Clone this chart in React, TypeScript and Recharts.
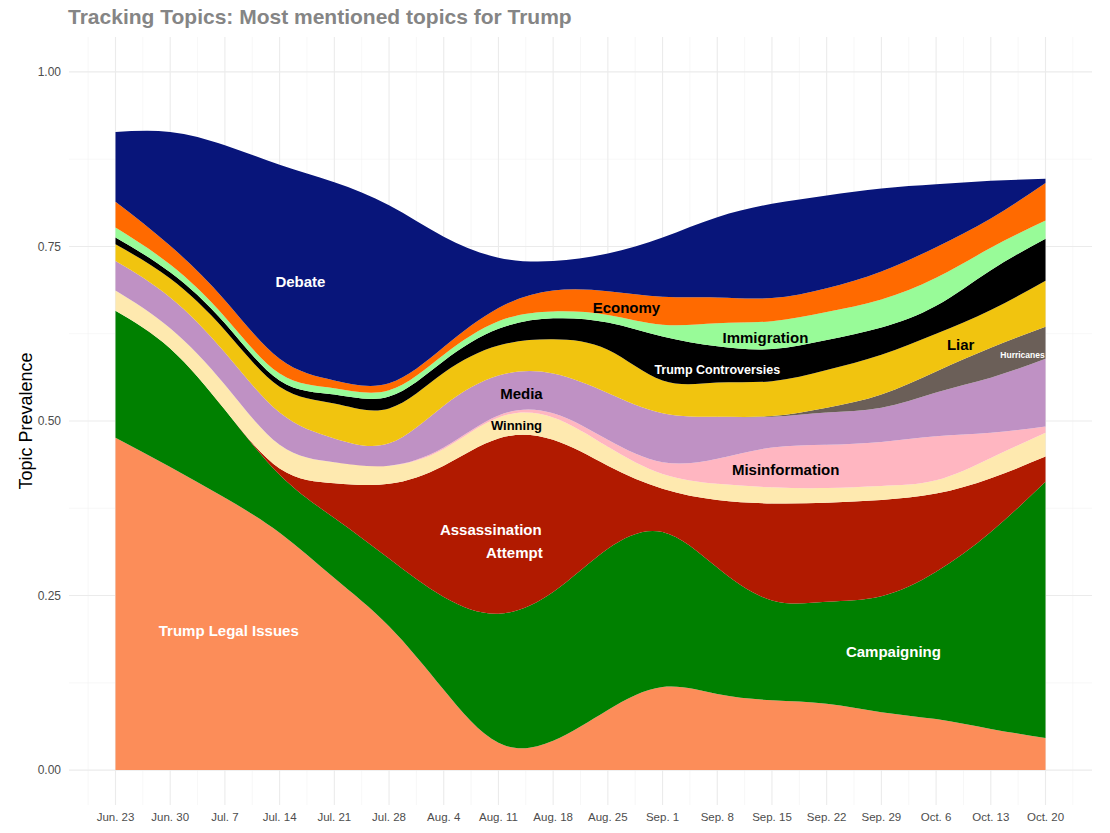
import { AreaChart, Area, XAxis, YAxis, CartesianGrid, ReferenceDot } from 'recharts';

// weekly x positions (index 0 = Jun. 23)
const weekLabels = [
  'Jun. 23', 'Jun. 30', 'Jul. 7', 'Jul. 14', 'Jul. 21', 'Jul. 28', 'Aug. 4', 'Aug. 11', 'Aug. 18',
  'Aug. 25', 'Sep. 1', 'Sep. 8', 'Sep. 15', 'Sep. 22', 'Sep. 29', 'Oct. 6', 'Oct. 13', 'Oct. 20',
];

// topic prevalence per week, bottom of the stack first
const legalIssues = [0.476, 0.434, 0.39, 0.34, 0.275, 0.206, 0.115, 0.039, 0.042, 0.086, 0.119, 0.109, 0.1, 0.095, 0.083, 0.073, 0.059, 0.046];
const campaigning = [0.182, 0.17, 0.126, 0.083, 0.086, 0.097, 0.133, 0.185, 0.213, 0.231, 0.222, 0.181, 0.143, 0.146, 0.166, 0.211, 0.282, 0.367];
const assassination = [0, 0, 0, 0.009, 0.05, 0.107, 0.188, 0.251, 0.218, 0.119, 0.062, 0.097, 0.139, 0.142, 0.138, 0.112, 0.077, 0.036];
const winning = [0.029, 0.029, 0.036, 0.034, 0.03, 0.026, 0.024, 0.03, 0.032, 0.027, 0.021, 0.023, 0.023, 0.021, 0.02, 0.019, 0.029, 0.034];
const misinformation = [0, 0, 0, 0, 0, 0, 0.002, 0.003, 0.006, 0.01, 0.017, 0.036, 0.057, 0.062, 0.063, 0.063, 0.036, 0.009];
const media = [0.042, 0.044, 0.046, 0.046, 0.034, 0.032, 0.06, 0.057, 0.057, 0.067, 0.07, 0.06, 0.044, 0.046, 0.049, 0.063, 0.079, 0.097];
const hurricanes = [0, 0, 0, 0, 0, 0, 0, 0, 0, 0, 0, 0, 0.001, 0.007, 0.019, 0.03, 0.043, 0.046];
const liar = [0.024, 0.027, 0.032, 0.037, 0.05, 0.05, 0.047, 0.043, 0.049, 0.062, 0.047, 0.049, 0.05, 0.054, 0.057, 0.054, 0.054, 0.066];
const controversies = [0.01, 0.009, 0.01, 0.009, 0.013, 0.017, 0.017, 0.024, 0.03, 0.039, 0.063, 0.052, 0.046, 0.043, 0.039, 0.04, 0.057, 0.06];
const immigration = [0.014, 0.011, 0.009, 0.01, 0.009, 0.009, 0.009, 0.011, 0.01, 0.011, 0.017, 0.033, 0.04, 0.04, 0.04, 0.04, 0.032, 0.026];
const economy = [0.037, 0.027, 0.024, 0.021, 0.011, 0.01, 0.011, 0.019, 0.03, 0.034, 0.04, 0.037, 0.033, 0.034, 0.04, 0.044, 0.042, 0.054];
const debate = [0.1, 0.163, 0.222, 0.278, 0.284, 0.255, 0.158, 0.072, 0.042, 0.054, 0.085, 0.115, 0.135, 0.133, 0.119, 0.09, 0.054, 0.006];

const yTicks = [0, 0.25, 0.5, 0.75, 1];

const topics = [
  { key: 'legal', values: legalIssues, color: '#FC8D59' },
  { key: 'campaigning', values: campaigning, color: '#008000' },
  { key: 'assassination', values: assassination, color: '#B11A00' },
  { key: 'winning', values: winning, color: '#FEE9AF' },
  { key: 'misinformation', values: misinformation, color: '#FFB6C1' },
  { key: 'media', values: media, color: '#BF91C4' },
  { key: 'hurricanes', values: hurricanes, color: '#6B5F58' },
  { key: 'liar', values: liar, color: '#F1C40F' },
  { key: 'controversies', values: controversies, color: '#000000' },
  { key: 'immigration', values: immigration, color: '#98FB98' },
  { key: 'economy', values: economy, color: '#FF6A00' },
  { key: 'debate', values: debate, color: '#08157A' },
];

const data = weekLabels.map((label, i) => {
  const row: Record<string, number | string> = { week: i, label };
  topics.forEach((t) => {
    row[t.key] = t.values[i];
  });
  return row;
});

// text annotations, in data coordinates (week index, prevalence)
const annotations = [
  { text: 'Debate', x: 3.38, y: 0.699, fill: '#fff', size: 15 },
  { text: 'Economy', x: 9.34, y: 0.663, fill: '#000', size: 15 },
  { text: 'Immigration', x: 11.88, y: 0.619, fill: '#000', size: 15 },
  { text: 'Liar', x: 15.45, y: 0.609, fill: '#000', size: 15 },
  { text: 'Hurricanes', x: 16.58, y: 0.594, fill: '#fff', size: 8.5 },
  { text: 'Trump Controversies', x: 11.0, y: 0.574, fill: '#fff', size: 12.5 },
  { text: 'Media', x: 7.42, y: 0.539, fill: '#000', size: 15 },
  { text: 'Winning', x: 7.33, y: 0.494, fill: '#000', size: 13 },
  { text: 'Misinformation', x: 12.25, y: 0.43, fill: '#000', size: 15 },
  { text: 'Assassination', x: 6.86, y: 0.345, fill: '#fff', size: 15 },
  { text: 'Attempt', x: 7.29, y: 0.312, fill: '#fff', size: 15 },
  { text: 'Trump Legal Issues', x: 2.07, y: 0.199, fill: '#fff', size: 15 },
  { text: 'Campaigning', x: 14.22, y: 0.169, fill: '#fff', size: 15 },
];

const X_DOMAIN: [number, number] = [-0.85, 17.85];
const Y_DOMAIN: [number, number] = [-0.05, 1.05];

const majorX = weekLabels.map((_, i) => i);
const minorX = weekLabels.concat(['']).map((_, i) => i - 0.5);
const majorY = yTicks;
const minorY = [0.125, 0.375, 0.625, 0.875];

// grid positions follow the same linear mapping as the axes' domains
function xGen(values: number[]) {
  return ({ offset }: any) =>
    values.map((v) => offset.left + ((v - X_DOMAIN[0]) / (X_DOMAIN[1] - X_DOMAIN[0])) * offset.width);
}

function yGen(values: number[]) {
  return ({ offset }: any) =>
    values.map((v) => offset.top + ((Y_DOMAIN[1] - v) / (Y_DOMAIN[1] - Y_DOMAIN[0])) * offset.height);
}

export default function App() {
  return (
    <div
      style={{
        position: 'absolute',
        left: 0,
        top: 0,
        width: 1110,
        height: 833,
        background: '#fff',
        fontFamily: '"Liberation Sans", Arial, sans-serif',
      }}
    >
      <div
        style={{
          position: 'absolute',
          left: 68,
          top: 5,
          fontSize: 21,
          fontWeight: 'bold',
          color: '#858585',
          whiteSpace: 'nowrap',
        }}
      >
        Tracking Topics: Most mentioned topics for Trump
      </div>
      <div
        style={{
          position: 'absolute',
          left: 26,
          top: 421,
          transform: 'translate(-50%, -50%) rotate(-90deg)',
          fontSize: 18,
          color: '#000',
          whiteSpace: 'nowrap',
        }}
      >
        Topic Prevalence
      </div>
      <AreaChart
        width={1110}
        height={833}
        data={data}
        margin={{ top: 37, right: 18, left: 8, bottom: 0 }}
        style={{ position: 'absolute', left: 0, top: 0 }}
      >
        <CartesianGrid
          stroke="#F2F2F2"
          strokeWidth={0.6}
          verticalCoordinatesGenerator={xGen(minorX)}
          horizontalCoordinatesGenerator={yGen(minorY)}
        />
        <CartesianGrid
          stroke="#EBEBEB"
          strokeWidth={1.1}
          verticalCoordinatesGenerator={xGen(majorX)}
          horizontalCoordinatesGenerator={yGen(majorY)}
        />
        <XAxis
          dataKey="week"
          type="number"
          domain={X_DOMAIN}
          ticks={majorX}
          interval={0}
          tickFormatter={(v: number) => weekLabels[v] ?? ''}
          tickLine={false}
          axisLine={false}
          height={28}
          tick={{ fill: '#4D4D4D', fontSize: 11.5 }}
        />
        <YAxis
          type="number"
          domain={Y_DOMAIN}
          ticks={yTicks}
          interval={0}
          allowDataOverflow
          tickFormatter={(v: number) => v.toFixed(2)}
          tickLine={false}
          axisLine={false}
          width={61}
          tick={{ fill: '#4D4D4D', fontSize: 12 }}
        />
        {topics.map((t) => (
          <Area
            key={t.key}
            dataKey={t.key}
            stackId="topics"
            type="natural"
            fill={t.color}
            fillOpacity={1}
            stroke="none"
            dot={false}
            activeDot={false}
            isAnimationActive={false}
          />
        ))}
        {annotations.map((a) => (
          <ReferenceDot
            key={a.text}
            x={a.x}
            y={a.y}
            r={0}
            fill="none"
            stroke="none"
            label={{
              value: a.text,
              position: 'center',
              fill: a.fill,
              fontSize: a.size,
              fontWeight: 'bold',
            }}
          />
        ))}
      </AreaChart>
    </div>
  );
}
